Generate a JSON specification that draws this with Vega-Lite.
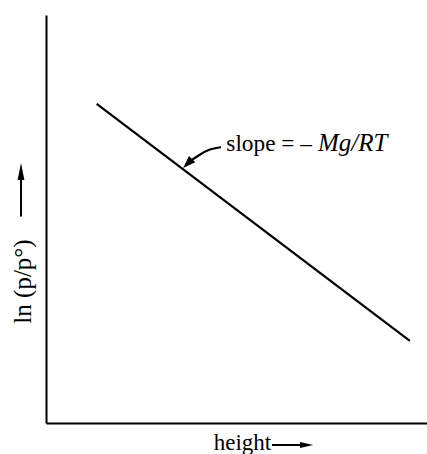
{
  "$schema": "https://vega.github.io/schema/vega-lite/v6.json",
  "autosize": "none",
  "width": 381,
  "height": 408,
  "padding": {"left": 46, "top": 15, "right": 0, "bottom": 31},
  "background": "white",
  "config": {"view": {"stroke": null}},
  "datasets": {
    "main": [{"x": 13.3, "y": 78.2}, {"x": 95.5, "y": 20.1}],
    "curve": [{"x": 45.9, "y": 67.6}, {"x": 43.0, "y": 67.2}, {"x": 40.2, "y": 65.7}, {"x": 37.8, "y": 64.2}, {"x": 36.8, "y": 63.4}],
    "tip": [{"x": 36.0, "y": 62.5}],
    "xarrow": [{"x": 59.3, "x2": 67.8, "y": -5.4}],
    "xtip": [{"x": 70.1, "y": -5.4}],
    "yarrow": [{"x": -6.56, "y": 50.6, "y2": 60.5}],
    "ytip": [{"x": -6.56, "y": 63.7}],
    "label1": [{"x": 69.8, "y": 66.7, "t": "slope = –"}],
    "label2": [{"x": 71.4, "y": 66.7, "t": "Mg/RT"}]
  },
  "encoding": {
    "x": {
      "field": "x", "type": "quantitative",
      "scale": {"domain": [0, 100], "nice": false, "zero": false},
      "axis": {
        "domain": true, "domainColor": "black", "domainWidth": 2,
        "ticks": false, "labels": false, "grid": false,
        "title": "height", "titleFont": "Liberation Serif", "titleFontSize": 23,
        "titleFontWeight": "normal", "titleColor": "black",
        "titleX": 196, "titleY": 26, "titleBaseline": "alphabetic", "titleAlign": "center", "titleAnchor": null
      }
    },
    "y": {
      "field": "y", "type": "quantitative",
      "scale": {"domain": [0, 100], "nice": false, "zero": false},
      "axis": {
        "domain": true, "domainColor": "black", "domainWidth": 2,
        "ticks": false, "labels": false, "grid": false,
        "title": "ln (p/p°)", "titleFont": "Liberation Serif", "titleFontSize": 25,
        "titleFontWeight": "normal", "titleColor": "black",
        "titleX": -16, "titleY": 266, "titleAngle": -90, "titleBaseline": "alphabetic", "titleAlign": "center", "titleAnchor": null
      }
    }
  },
  "layer": [
    {"data": {"name": "main"}, "mark": {"type": "line", "color": "black", "strokeWidth": 2.2}},
    {"data": {"name": "curve"}, "mark": {"type": "line", "color": "black", "strokeWidth": 2.2, "interpolate": "basis"}},
    {"data": {"name": "tip"}, "mark": {"type": "point", "shape": "M0,0L-0.7,2L0.7,2Z", "filled": true, "color": "black", "opacity": 1, "size": 160, "angle": 225}},
    {"data": {"name": "xarrow"}, "mark": {"type": "rule", "color": "black", "strokeWidth": 2}, "encoding": {"x2": {"field": "x2"}}},
    {"data": {"name": "xtip"}, "mark": {"type": "point", "shape": "M0,0L-0.45,2L0.45,2Z", "filled": true, "color": "black", "opacity": 1, "size": 170, "angle": 90}},
    {"data": {"name": "yarrow"}, "mark": {"type": "rule", "color": "black", "strokeWidth": 2}, "encoding": {"y2": {"field": "y2"}}},
    {"data": {"name": "ytip"}, "mark": {"type": "point", "shape": "M0,0L-0.4,2L0.4,2Z", "filled": true, "color": "black", "opacity": 1, "size": 289, "angle": 0}},
    {"data": {"name": "label1"}, "mark": {"type": "text", "font": "Liberation Serif", "fontSize": 23.3, "align": "right", "baseline": "alphabetic", "color": "black"}, "encoding": {"text": {"field": "t"}}},
    {"data": {"name": "label2"}, "mark": {"type": "text", "font": "Liberation Serif", "fontSize": 25, "fontStyle": "italic", "align": "left", "baseline": "alphabetic", "color": "black"}, "encoding": {"text": {"field": "t"}}}
  ]
}
